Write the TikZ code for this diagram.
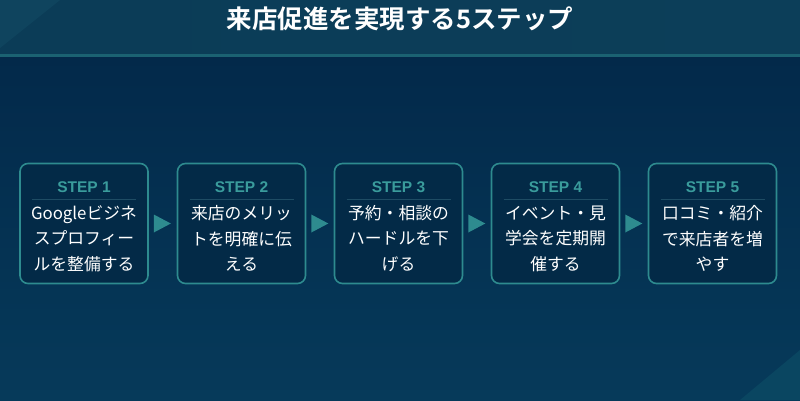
\documentclass[tikz,border=0pt]{standalone}
\usepackage{fontspec}
\setmainfont{Noto Sans CJK JP}
\newfontfamily\cjkbold{Noto Sans CJK JP Bold}
\newfontfamily\stepfont{Liberation Sans}
\usetikzlibrary{calc}
\definecolor{hdr}{HTML}{0B3C57}
\definecolor{hdrlight}{HTML}{124A63}
\definecolor{hdrline}{HTML}{1B6272}
\definecolor{bgtop}{HTML}{03294A}
\definecolor{bgbot}{HTML}{063A5A}
\definecolor{bglight}{HTML}{0A4661}
\definecolor{boxfill}{HTML}{032A47}
\definecolor{teal}{HTML}{2E8B8F}
\definecolor{steptxt}{HTML}{3A9C9C}
\definecolor{sepc}{HTML}{1E4C64}
\tikzset{
  stepbox/.style={draw=teal, line width=1.6pt, fill=boxfill, rounded corners=8pt,
    minimum width=128pt, minimum height=120pt, inner sep=0pt},
  steplabel/.style={text=steptxt, font=\stepfont\bfseries\fontsize{15.5}{17}\selectfont, inner sep=0pt},
  sepline/.style={draw=sepc, line width=1.8pt},
  bodytxt/.style={text=white, font=\fontsize{16.8}{25.5}\selectfont, align=center, text width=126pt, inner sep=0pt},
  arrowtri/.style={fill=teal},
}
\begin{document}
\begin{tikzpicture}[x=1pt,y=-1pt]
\useasboundingbox (0,0) rectangle (800,400);
% background
\shade[top color=bgtop, bottom color=bgbot] (0,55) rectangle (800,400);
\fill[bglight] (800,350) -- (800,400) -- (740,400) -- cycle;
% header
\shade[left color=hdr, right color=hdr!85!hdrlight] (0,0) rectangle (800,55);
\fill[hdrlight, opacity=0.6] (0,0) -- (60,0) -- (0,48) -- cycle;
\fill[hdrline] (0,54) rectangle (800,56.5);
\node[text=white, font=\cjkbold\fontsize{25.5}{28}\selectfont, inner sep=0pt] (title) at (400,18.5) {来店促進を実現する5ステップ};
% steps
\foreach \i/\x/\t in {1/84/{Googleビジネ\\スプロフィー\\ルを整備する},
                      2/241.5/{来店のメリッ\\トを明確に伝\\える},
                      3/398.5/{予約・相談の\\ハードルを下\\げる},
                      4/555.5/{イベント・見\\学会を定期開\\催する},
                      5/712.5/{口コミ・紹介\\で来店者を増\\やす}} {
  \node[stepbox] (s\i) at (\x,223.5) {};
  \node[steplabel] (l\i) at (\x,187) {STEP \i};
  \coordinate (sa\i) at (\x-52,199.5);
  \coordinate (sb\i) at (\x+52,199.5);
  \draw[sepline] (sa\i) -- (sb\i);
  \node[bodytxt] (t\i) at (\x,238.5) {\t};
}
\foreach \i in {1,2,3,4} {
  \fill[arrowtri] ($(s\i.east)+(5,-9)$) -- ++(17,9) -- ++(-17,9) -- cycle;
}
\end{tikzpicture}
\end{document}
